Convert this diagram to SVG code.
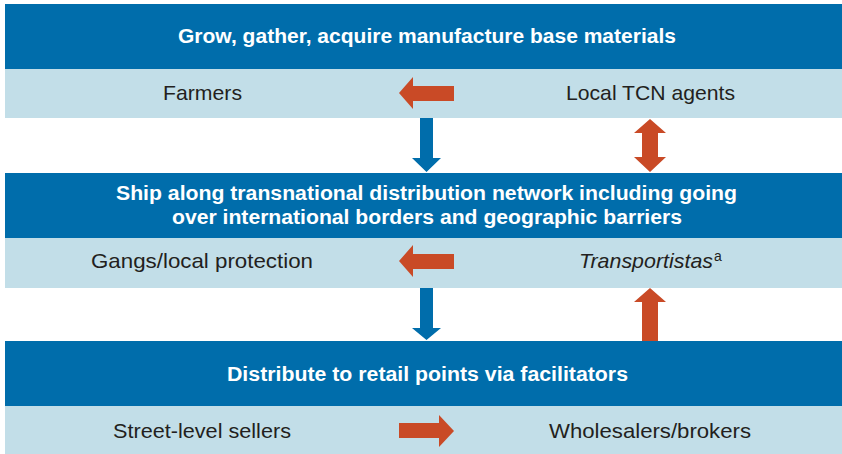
<svg xmlns="http://www.w3.org/2000/svg" width="842" height="454" viewBox="0 0 842 454">
  <style>
    .band { fill: #006dab; }
    .row { fill: #c2dee8; }
    .hd { font-family: "Liberation Sans", Arial, sans-serif; font-weight: bold; font-size: 20px; fill: #ffffff; text-anchor: middle; }
    .tx { font-family: "Liberation Sans", Arial, sans-serif; font-size: 21px; fill: #231f20; text-anchor: middle; }
    .org { fill: #c94a26; }
    .blu { fill: #006dab; }
  </style>
  <rect x="0" y="0" width="842" height="454" fill="#ffffff"/>

  <g id="stage1">
    <rect class="band" x="5" y="4" width="837" height="65"/>
    <text class="hd" x="427" y="43" textLength="498" lengthAdjust="spacingAndGlyphs">Grow, gather, acquire manufacture base materials</text>
    <rect class="row" x="5" y="69" width="837" height="49"/>
  </g>
  <g id="farmers">
    <text class="tx" x="202.5" y="100" textLength="79" lengthAdjust="spacingAndGlyphs">Farmers</text>
  </g>
  <g id="local-tcn-agents">
    <text class="tx" x="650.5" y="100" textLength="169" lengthAdjust="spacingAndGlyphs">Local TCN agents</text>
  </g>

  <g id="stage2">
    <rect class="band" x="5" y="173" width="837" height="65"/>
    <text class="hd" x="426.5" y="200" textLength="621" lengthAdjust="spacingAndGlyphs">Ship along transnational distribution network including going</text>
    <text class="hd" x="427" y="224" textLength="510" lengthAdjust="spacingAndGlyphs">over international borders and geographic barriers</text>
    <rect class="row" x="5" y="238" width="837" height="50"/>
  </g>
  <g id="gangs">
    <text class="tx" x="202" y="268" textLength="222" lengthAdjust="spacingAndGlyphs">Gangs/local protection</text>
  </g>
  <g id="transportistas">
    <text class="tx" x="579" y="268" style="text-anchor:start;font-style:italic" textLength="134" lengthAdjust="spacingAndGlyphs">Transportistas</text>
    <text class="tx" x="714" y="261" style="text-anchor:start;font-size:14px">a</text>
  </g>

  <g id="stage3">
    <rect class="band" x="5" y="341" width="837" height="65"/>
    <text class="hd" x="427.5" y="381" textLength="401" lengthAdjust="spacingAndGlyphs">Distribute to retail points via facilitators</text>
    <rect class="row" x="5" y="406" width="837" height="48"/>
  </g>
  <g id="street-sellers">
    <text class="tx" x="202" y="438" textLength="178" lengthAdjust="spacingAndGlyphs">Street-level sellers</text>
  </g>
  <g id="wholesalers">
    <text class="tx" x="650" y="438" textLength="202" lengthAdjust="spacingAndGlyphs">Wholesalers/brokers</text>
  </g>

  <g id="connectors">
    <polygon class="org" points="399,93 413,77 413,86 454,86 454,101 413,101 413,109"/>
    <polygon class="org" points="399,261 413,245 413,254 454,254 454,269 413,269 413,277"/>
    <polygon class="org" points="454,431 439,415 439,423 399,423 399,438 439,438 439,447"/>
    <polygon class="blu" points="420,118 433,118 433,158 441,158 426.5,172 412,158 420,158"/>
    <polygon class="blu" points="420,288 433,288 433,328 441,328 426.5,340 412,328 420,328"/>
    <polygon class="org" points="650,119 666,133 658,133 658,157 666,157 650,172 634,157 642,157 642,133 634,133"/>
    <polygon class="org" points="650,288 666,302 658,302 658,341 642,341 642,302 634,302"/>
  </g>
</svg>
